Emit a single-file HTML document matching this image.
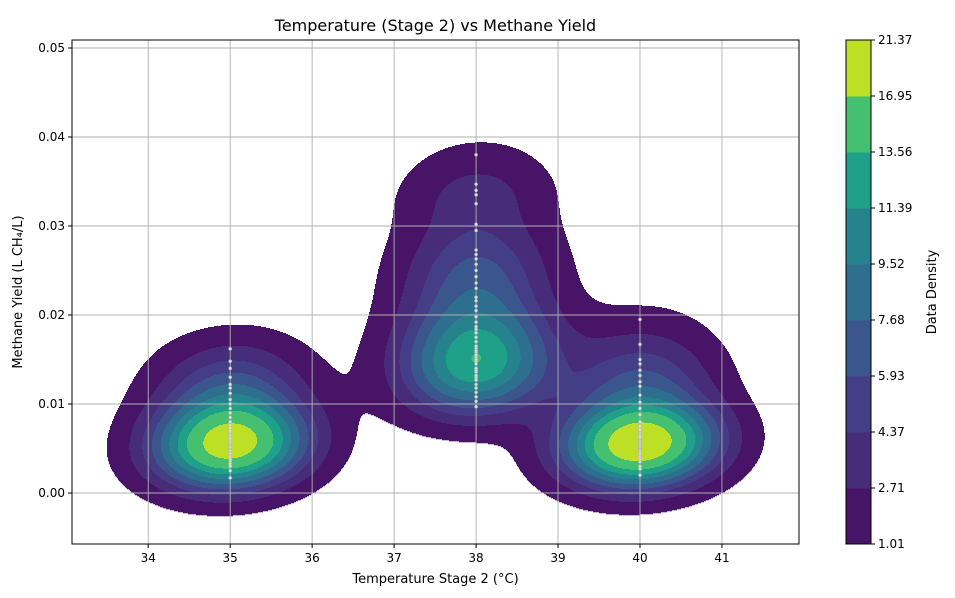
<!DOCTYPE html>
<html><head><meta charset="utf-8"><style>
body{margin:0;background:#fff;}
svg{display:block;font-family:"DejaVu Sans","Liberation Sans",sans-serif;}
</style></head><body>
<svg id="chart" width="955" height="598"></svg>
<script>
const yAt35 = [0.0017,0.0025,0.003,0.0033,0.0036,0.0038,0.004,0.0042,0.0044,0.0045,0.0047,0.0048,0.005,0.0051,0.0052,0.0054,0.0055,0.0056,0.0057,0.0059,0.006,0.0062,0.0064,0.0065,0.0067,0.0068,0.007,0.0073,0.0076,0.008,0.0085,0.009,0.0095,0.01,0.0105,0.0112,0.0118,0.0122,0.013,0.014,0.0148,0.0162];
const yAt38 = [0.0097,0.0103,0.0108,0.0113,0.0118,0.0122,0.0127,0.013,0.0132,0.0136,0.0138,0.014,0.0145,0.0148,0.015,0.0153,0.0155,0.0158,0.016,0.0163,0.0165,0.017,0.0175,0.018,0.0184,0.0187,0.0192,0.0198,0.0205,0.021,0.0216,0.022,0.023,0.0236,0.0243,0.025,0.0257,0.0263,0.0268,0.0273,0.0295,0.0302,0.0325,0.0335,0.034,0.0347,0.038];
const yAt40 = [0.002,0.0027,0.003,0.0035,0.0038,0.004,0.0042,0.0044,0.0045,0.0047,0.0048,0.005,0.0051,0.0052,0.0053,0.0054,0.0055,0.0056,0.0057,0.0058,0.0059,0.006,0.0061,0.0062,0.0063,0.0065,0.0067,0.0068,0.007,0.0071,0.0075,0.008,0.0088,0.0095,0.0102,0.011,0.012,0.0125,0.0132,0.0138,0.0145,0.015,0.0167,0.0195];
const groupTemps = [35,38,40];
const levels = [1.01,2.71,4.37,5.93,7.68,9.52,11.39,13.56,16.95,21.37];
const bandColors = ['#481467','#472c7a','#433e85','#3a568c','#2e6e8e','#26838e','#1fa088','#45bf70','#bddf26'];
const xTicks = [34,35,36,37,38,39,40,41];
const yTicks = [0.00,0.01,0.02,0.03,0.04,0.05];

const NS='http://www.w3.org/2000/svg';
const svg=document.getElementById('chart');
function mk(tag,attrs,parent){const e=document.createElementNS(NS,tag);for(const k in attrs)e.setAttribute(k,attrs[k]);(parent||svg).appendChild(e);return e;}
const L=72,R=799,T=40,B=544;
const xMin=33.07,xMax=41.94,yMin=-0.00573,yMax=0.0509;
const sx=v=>L+(v-xMin)/(xMax-xMin)*(R-L);
const sy=v=>B-(v-yMin)/(yMax-yMin)*(B-T);
const ix=p=>xMin+(p-L)/(R-L)*(xMax-xMin);
const iy=p=>yMin+(B-p)/(B-T)*(yMax-yMin);

const pts=[];
[yAt35,yAt38,yAt40].forEach((arr,i)=>arr.forEach(y=>pts.push([groupTemps[i],y])));
const N=pts.length;
let mx=0,my=0;pts.forEach(p=>{mx+=p[0];my+=p[1];});mx/=N;my/=N;
let cxx=0,cyy=0,cxy=0;pts.forEach(p=>{const a=p[0]-mx,b=p[1]-my;cxx+=a*a;cyy+=b*b;cxy+=a*b;});
cxx/=(N-1);cyy/=(N-1);cxy/=(N-1);
const f=0.355,xs=0.86;
const kxx=cxx*f*f*xs*xs,kyy=cyy*f*f,kxy=cxy*f*f*xs;
const det=kxx*kyy-kxy*kxy;
const ixx=kyy/det,iyy=kxx/det,ixy=-kxy/det;
const norm=1/(N*2*Math.PI*Math.sqrt(det));
function dens(x,y){let s=0;for(const p of pts){const a=x-p[0],b=y-p[1];s+=Math.exp(-0.5*(a*a*ixx+2*a*b*ixy+b*b*iyy));}return s*norm;}
function band(d){if(d<levels[0])return -1;for(let i=levels.length-2;i>=0;i--)if(d>=levels[i])return i;return -1;}

const gC=mk('g',{});
const step=1;
for(let py=T;py<B;py+=step){
  const y=iy(py+step/2);let cur=-1,start=L;
  for(let px=L;px<=R;px++){
    const b=px<R?band(dens(ix(px+0.5),y)):-2;
    if(b!==cur){
      if(cur>=0){const r=mk('rect',{x:start,y:py,width:px-start,height:step+0.3,fill:bandColors[cur]},gC);
        
        }
      cur=b;start=px;
    }
  }
}
const gG=mk('g',{});
xTicks.forEach(t=>mk('line',{x1:sx(t),x2:sx(t),y1:T,y2:B,stroke:'#b0b0b0','stroke-width':0.9},gG));
yTicks.forEach(t=>mk('line',{x1:L,x2:R,y1:sy(t),y2:sy(t),stroke:'#b0b0b0','stroke-width':0.9},gG));
const gP=mk('g',{});
pts.forEach(p=>{const c=mk('circle',{cx:sx(p[0]),cy:sy(p[1]),r:1.6,fill:'#ddd',stroke:'#aaa','stroke-width':0.4},gP);
  
  });
mk('rect',{x:L,y:T,width:R-L,height:B-T,fill:'none',stroke:'#000','stroke-width':1,});
const gX=mk('g',{});
xTicks.forEach(t=>{mk('line',{x1:sx(t),x2:sx(t),y1:B,y2:B+4,stroke:'#000'},gX);
  const tx=mk('text',{x:sx(t),y:B+18,'font-size':12,'text-anchor':'middle'},gX);tx.textContent=t;
  });
const gY=mk('g',{});
yTicks.forEach(t=>{mk('line',{x1:L-4,x2:L,y1:sy(t),y2:sy(t),stroke:'#000'},gY);
  const tx=mk('text',{x:L-7,y:sy(t)+4,'font-size':12,'text-anchor':'end'},gY);tx.textContent=t.toFixed(2);
  });
let t=mk('text',{x:(L+R)/2,y:583,'font-size':13,'text-anchor':'middle',});t.textContent='Temperature Stage 2 (°C)';
t=mk('text',{x:0,y:0,'font-size':13,'text-anchor':'middle',transform:'translate(22,292) rotate(-90)',});t.textContent='Methane Yield (L CH₄/L)';
t=mk('text',{x:(L+R)/2,y:31,'font-size':16,'text-anchor':'middle',});t.textContent='Temperature (Stage 2) vs Methane Yield';
const cbL=846,cbW=25,cbT=40,cbB=544,nb=levels.length-1,bh=(cbB-cbT)/nb;
const gCB=mk('g',{});
for(let i=0;i<nb;i++){const r=mk('rect',{x:cbL,y:cbB-(i+1)*bh,width:cbW,height:bh+0.5,fill:bandColors[i]},gCB);
  }
mk('rect',{x:cbL,y:cbT,width:cbW,height:cbB-cbT,fill:'none',stroke:'#000'},gCB);
levels.forEach((lv,i)=>{const y=cbB-i*bh;mk('line',{x1:cbL+cbW,x2:cbL+cbW+4,y1:y,y2:y,stroke:'#000'},gCB);
  const tx=mk('text',{x:cbL+cbW+7,y:y+4,'font-size':12},gCB);tx.textContent=lv.toFixed(2);
  });
t=mk('text',{x:0,y:0,'font-size':13,'text-anchor':'middle',transform:'translate(936,292) rotate(-90)',});t.textContent='Data Density';
</script>
</body></html>
